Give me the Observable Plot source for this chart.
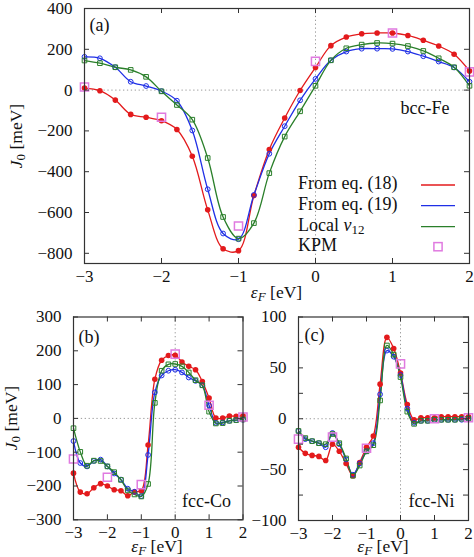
<!DOCTYPE html>
<html>
<head>
<meta charset="utf-8">
<script src="https://cdn.jsdelivr.net/npm/d3@7"></script>
<script src="https://cdn.jsdelivr.net/npm/@observablehq/plot@0.6"></script>
<style>
  body { margin: 0; background: #fff; }
  #wrap { position: relative; width: 474px; height: 557px; background: #fff; }
  #wrap svg { position: absolute; overflow: visible; }
  #wrap svg text { font-family: 'Liberation Serif', 'DejaVu Serif', serif !important; }
</style>
</head>
<body>
<div id="wrap"></div>
<script>
// ---------- data ----------
const eF = [-3,-2.8,-2.6,-2.4,-2.2,-2,-1.8,-1.6,-1.4,-1.2,-1,-0.8,-0.6,-0.4,-0.2,0,0.2,0.4,0.6,0.8,1,1.2,1.4,1.6,1.8,2];
const eKPM = [-3,-2,-1,0,1,2];
const seriesNames = ["From eq. (18)", "From eq. (19)", "Local v12", "KPM"];

// bcc-Fe
const feEq18 = [10,-3,-49,-119,-133,-150,-193,-324,-587,-778,-787,-517,-291,-137,-2,111,218,260,276,280,280,268,244,216,176,94];
const feEq19 = [163,156,112,41,20,-5,-52,-198,-486,-703,-731,-514,-312,-177,-50,55,146,189,203,203,202,189,166,140,111,41];
const feLocal = [145,132,112,99,65,-6,-73,-145,-333,-622,-728,-652,-407,-228,-104,21,146,205,223,231,228,216,192,156,112,21];
const feKPM = [15,-133,-666,141,280,89];

// fcc-Co
const coEq18 = [-162,-218,-223,-205,-193,-200,-211,-214,-229,-217,-214,-79,116,172,186,187,167,154,144,109,60,1,1,7,6,8];
const coEq19 = [-67,-132,-142,-126,-122,-142,-163,-181,-208,-217,-230,-108,77,127,141,144,136,121,111,98,38,-13,-12,-7,-5,-4];
const coLocal = [-29,-99,-140,-125,-126,-142,-159,-182,-213,-225,-231,-194,46,141,160,161,154,136,113,98,20,-15,-14,-7,-5,-3];
const coKPM = [-120,-174,-196,190,39,4];

// fcc-Ni
const niEq18 = [-28,-34,-36,-37,-41,-25,-32,-44,-56,-43,-28,-17,34,80,69,45,14,-1,1,1,1,2,2,2,2,2];
const niEq19 = [-12,-20,-22,-24,-28,-14,-25,-40,-55,-44,-32,-24,24,67,61,43,10,-4,-2,-2,-1,-1,-1,-1,-1,0];
const niLocal = [-12,-19,-22,-24,-25,-15,-24,-39,-56,-46,-32,-26,18,72,63,41,7,-5,-2,-2,-1,-1,-1,-1,0,0];
const niKPM = [-20,-18,-29,54,0,1];

// ticks
const xTicks = [-3,-2,-1,0,1,2];
const feYTicks = [-800,-600,-400,-200,0,200,400];
const coYTicks = [-300,-200,-100,0,100,200,300];
const niYLabels = [-100,-50,0,50,100];
const niYTicks = [-100,-75,-50,-25,0,25,50,75,100];

// ---------- style ----------
const C18 = "#e31a1c", C19 = "#1f2fe6", CLOC = "#2a7f2a", CKPM = "#e07ae0";
const FONT = "'Liberation Serif', 'DejaVu Serif', serif";
const FRAME = "#333";

function rows(ys) { return eF.map((x, i) => ({x, y: ys[i]})); }
function krows(ys) { return eKPM.map((x, i) => ({x, y: ys[i]})); }

function panel(o) {
  const pw = o.width - o.ml - o.mr, ph = o.height - o.mt - o.mb;
  const tl = 5;
  const r18 = rows(o.s18), r19 = rows(o.s19), rl = rows(o.sl), rk = krows(o.kpm);
  const svg = Plot.plot({
    width: o.width, height: o.height,
    marginLeft: o.ml, marginRight: o.mr, marginTop: o.mt, marginBottom: o.mb,
    x: {domain: o.xd}, y: {domain: o.yd},
    style: {fontFamily: FONT, fontSize: "17px", background: "transparent", color: "#111", overflow: "visible"},
    marks: [
      Plot.ruleY([0], {stroke: "#9a9a9a", strokeDasharray: "1.3,2.6", strokeWidth: 1}),
      Plot.ruleX([0], {stroke: "#9a9a9a", strokeDasharray: "1.3,2.6", strokeWidth: 1}),
      Plot.line(r18, {x: "x", y: "y", stroke: C18, strokeWidth: 1.3, curve: "catmull-rom"}),
      Plot.line(r19, {x: "x", y: "y", stroke: C19, strokeWidth: 1.3, curve: "catmull-rom"}),
      Plot.line(rl, {x: "x", y: "y", stroke: CLOC, strokeWidth: 1.3, curve: "catmull-rom"}),
      Plot.dot(r18, {x: "x", y: "y", fill: C18, r: 2.8}),
      Plot.dot(r19, {x: "x", y: "y", stroke: C19, fill: "none", r: 2.4, strokeWidth: 1}),
      Plot.dot(rl, {x: "x", y: "y", symbol: "square", stroke: CLOC, fill: "none", r: 2.6, strokeWidth: 1}),
      Plot.dot(rk, {x: "x", y: "y", symbol: "square", stroke: CKPM, fill: "none", r: 4.6, strokeWidth: 1.5}),
      Plot.frame({stroke: FRAME, strokeWidth: 1.2}),
      Plot.tickX(xTicks, {x: d => d, stroke: FRAME, insetTop: ph - tl}),
      Plot.tickX(xTicks, {x: d => d, stroke: FRAME, insetBottom: ph - tl}),
      Plot.tickY(o.ytm, {y: d => d, stroke: FRAME, insetRight: pw - tl}),
      Plot.tickY(o.ytm, {y: d => d, stroke: FRAME, insetLeft: pw - tl}),
      Plot.axisX(xTicks, {tickSize: 0, tickPadding: 6, label: null, fontSize: 17, fontFamily: FONT}),
      Plot.axisY(o.ytl, {tickSize: 0, tickPadding: 12, label: null, fontSize: 17, fontFamily: FONT}),
      Plot.text([o.tag], {frameAnchor: "top-left", dx: o.tagDx, dy: o.tagDy, textAnchor: "start", lineAnchor: "middle", fontSize: 18, fontFamily: FONT}),
      Plot.text([o.name], {frameAnchor: o.nameAnchor, dx: o.nameDx, dy: o.nameDy, textAnchor: "end", lineAnchor: "middle", fontSize: 18, fontFamily: FONT})
    ]
  });
  svg.style.left = o.left + "px";
  svg.style.top = o.top + "px";
  return svg;
}

function addRich(svg, x, y, parts, rotate) {
  const t = d3.select(svg).append("text")
    .attr("font-family", FONT).attr("font-size", 17.5).attr("fill", "#111")
    .attr("text-anchor", "middle").attr("dominant-baseline", "middle")
    .attr("transform", `translate(${x},${y})` + (rotate ? ` rotate(${rotate})` : ""));
  let shift = 0;
  for (const p of parts) {
    const s = t.append("tspan").text(p.t);
    if (p.i) s.attr("font-style", "italic");
    if (p.sub) { s.attr("font-size", 13).attr("dy", 4 - shift); shift = 4; }
    else if (shift) { s.attr("dy", -shift); shift = 0; }
  }
  return t;
}

const wrap = document.getElementById("wrap");

const A = panel({left: 0, top: 0, width: 474, height: 300, ml: 84, mr: 5, mt: 8, mb: 37,
  xd: [-3, 2], yd: [-850, 400], s18: feEq18, s19: feEq19, sl: feLocal, kpm: feKPM,
  ytm: feYTicks, ytl: feYTicks, tag: "(a)", tagDx: 5, tagDy: 17,
  name: "bcc-Fe", nameAnchor: "top-right", nameDx: -20, nameDy: 100});
const B = panel({left: 0, top: 300, width: 250, height: 257, ml: 73, mr: 7.5, mt: 16.5, mb: 37.7,
  xd: [-3, 2], yd: [-300, 300], s18: coEq18, s19: coEq19, sl: coLocal, kpm: coKPM,
  ytm: coYTicks, ytl: coYTicks, tag: "(b)", tagDx: 5, tagDy: 20,
  name: "fcc-Co", nameAnchor: "bottom-right", nameDx: -12, nameDy: -19});
const Cc = panel({left: 250, top: 300, width: 224, height: 257, ml: 48, mr: 6, mt: 16.5, mb: 37,
  xd: [-3, 2], yd: [-100, 100], s18: niEq18, s19: niEq19, sl: niLocal, kpm: niKPM,
  ytm: niYTicks, ytl: niYLabels, tag: "(c)", tagDx: 6, tagDy: 18.5,
  name: "fcc-Ni", nameAnchor: "bottom-right", nameDx: -14, nameDy: -19});
wrap.append(A, B, Cc);

// axis titles
const xLab = [{t: "ε", i: true}, {t: "F", i: true, sub: true}, {t: " [eV]"}];
const yLab = [{t: "J", i: true}, {t: "0", sub: true}, {t: " [meV]"}];
addRich(A, 276.5, 293.5, xLab);
addRich(A, 18, 136, yLab, -90);
addRich(B, 157, 248, xLab);
addRich(B, 13, 118, yLab, -90);
addRich(Cc, 133, 248, xLab);

// legend in panel (a)
const leg = d3.select(A).append("g").attr("font-family", FONT).attr("font-size", 18).attr("fill", "#111");
const legY = [185, 205.7, 226.7, 246.7];
const legC = [C18, C19, CLOC];
seriesNames.forEach((n, i) => {
  const t = leg.append("text").attr("x", 298).attr("y", legY[i])
    .attr("text-anchor", "start").attr("dominant-baseline", "middle");
  if (n === "Local v12") {
    t.append("tspan").text("Local ");
    t.append("tspan").text("v").attr("font-style", "italic");
    t.append("tspan").text("12").attr("font-size", 13).attr("dy", 4);
  } else t.text(n);
  if (i < 3) {
    leg.append("line").attr("x1", 421).attr("x2", 455).attr("y1", legY[i]).attr("y2", legY[i])
      .attr("stroke", legC[i]).attr("stroke-width", 1.3);
  } else {
    leg.append("rect").attr("x", 438 - 4.1).attr("y", legY[i] - 4.1).attr("width", 8.2).attr("height", 8.2)
      .attr("fill", "none").attr("stroke", CKPM).attr("stroke-width", 1.5);
  }
});
</script>
</body>
</html>
